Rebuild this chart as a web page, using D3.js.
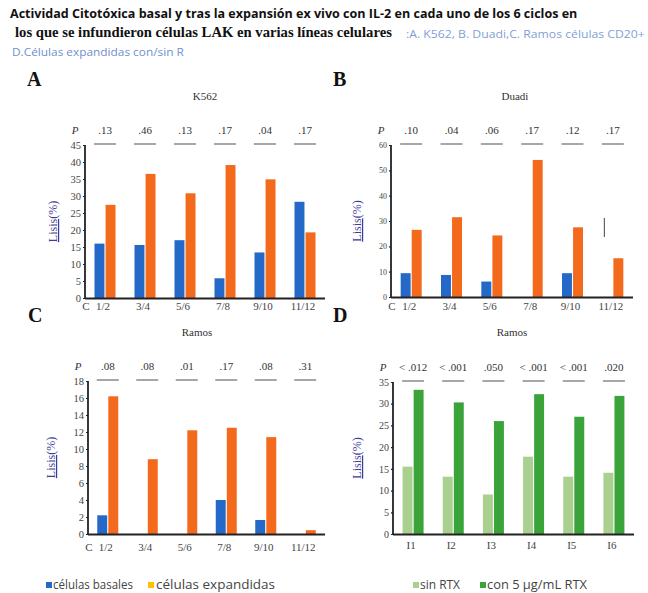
<!DOCTYPE html>
<html><head><meta charset="utf-8">
<script src="https://cdn.jsdelivr.net/npm/d3@7"></script>
<style>
html,body{margin:0;padding:0;background:#fff;}
svg{display:block;}
</style></head>
<body>
<svg id="chart" width="648" height="593"></svg>
<script>
// ---------- DATA ----------
const cycles = ["1/2", "3/4", "5/6", "7/8", "9/10", "11/12"];
const infusions = ["I1", "I2", "I3", "I4", "I5", "I6"];

const k562Basal = [16.0, 15.6, 17.0, 5.8, 13.4, 28.3];
const k562Expanded = [27.4, 36.5, 30.8, 39.1, 34.9, 19.3];
const k562P = [".13", ".46", ".13", ".17", ".04", ".17"];
const k562Ticks = [0, 5, 10, 15, 20, 25, 30, 35, 40, 45];

const duadiBasal = [9.4, 8.7, 6.1, 0, 9.4, 0];
const duadiExpanded = [26.5, 31.5, 24.3, 54.1, 27.5, 15.3];
const duadiP = [".10", ".04", ".06", ".17", ".12", ".17"];
const duadiTicks = [0, 10, 20, 30, 40, 50, 60];
const duadiStrayMark = [23.7, 31.2]; // stray vertical mark at 11/12

const ramosBasal = [2.2, 0, 0, 4.0, 1.65, 0];
const ramosExpanded = [16.2, 8.8, 12.2, 12.5, 11.4, 0.45];
const ramosP = [".08", ".08", ".01", ".17", ".08", ".31"];
const ramosTicks = [0, 2, 4, 6, 8, 10, 12, 14, 16, 18];

const sinRTX = [15.5, 13.2, 9.1, 17.8, 13.2, 14.1];
const conRTX = [33.2, 30.3, 26.0, 32.2, 27.0, 31.8];
const rtxP = ["< .012", "< .001", ".050", "< .001", "< .001", ".020"];
const rtxTicks = [0, 5, 10, 15, 20, 25, 30, 35];

const legendLabels = ["células basales", "células expandidas", "sin RTX", "con 5 µg/mL RTX"];

// ---------- STYLE ----------
const C_BLUE = "#2468c8", C_ORANGE = "#f46a1c", C_YELLOW = "#ffc000";
const C_LGREEN = "#a9d08e", C_GREEN = "#3aa33a";
const SERIF = "'Liberation Serif','DejaVu Serif',serif";
const SANS = "'Open Sans','Noto Sans','Liberation Sans',sans-serif";

const svg = d3.select("#chart");

// text fitted horizontally to a given width with a scale transform
function fitText(x, y, width, txt, attrs) {
  const g = svg.append("g");
  const t = g.append("text").attr("x", 0).attr("y", 0).text(txt);
  Object.entries(attrs).forEach(([k, v]) => t.attr(k, v));
  const w = t.node().getComputedTextLength();
  g.attr("transform", `translate(${x},${y}) scale(${width / w},1)`);
  return t;
}

// ---------- TITLE ----------
fitText(10, 18, 568, "Actividad Citotóxica basal y tras la expansión ex vivo con IL-2  en cada uno de los 6 ciclos en",
  { "font-family": SANS, "font-weight": "bold", "font-size": 13, fill: "#111" });
fitText(15, 37, 377, "los que se infundieron células LAK  en varias líneas celulares",
  { "font-family": SERIF, "font-weight": "bold", "font-size": 14, fill: "#111" });
fitText(406, 38, 239, ":A. K562, B. Duadi,C. Ramos células CD20+",
  { "font-family": SANS, "font-size": 10, fill: "#7f9fd4" });
fitText(12, 56, 172, "D.Células expandidas con/sin R",
  { "font-family": SANS, "font-size": 10.5, fill: "#6f8fd0" });

// ---------- PANELS ----------
function panel(cfg) {
  const g = svg.append("g");
  const x = d3.scaleBand().domain(cfg.cats).range([cfg.x0, cfg.x1]);
  const inner = d3.scaleBand().domain([0, 1]).range([-10.5, 10.5]).paddingInner(0.1);
  const y = d3.scaleLinear().domain([0, cfg.max]).range([cfg.yBot, cfg.yTop]);

  // panel letter
  g.append("text").attr("x", cfg.letterX).attr("y", cfg.letterY)
    .attr("font-family", SERIF).attr("font-weight", "bold").attr("font-size", 20).attr("fill", "#111")
    .text(cfg.letter);
  // panel title
  g.append("text").attr("x", cfg.titleX).attr("y", cfg.titleY).attr("text-anchor", "middle")
    .attr("font-family", SERIF).attr("font-size", 11).attr("fill", "#333")
    .text(cfg.title);

  // bars
  const series = [cfg.s1, cfg.s2];
  const colors = [cfg.c1, cfg.c2];
  series.forEach((vals, si) => {
    g.selectAll(null).data(vals).enter().append("rect")
      .attr("x", (d, i) => x(cfg.cats[i]) + x.bandwidth() / 2 + inner(si))
      .attr("width", inner.bandwidth())
      .attr("y", d => y(d))
      .attr("height", d => cfg.yBot - y(d))
      .attr("fill", colors[si]);
  });

  // axes
  const ax = g.append("g").attr("transform", `translate(${cfg.x0},0)`)
    .call(d3.axisLeft(y).tickValues(cfg.ticks).tickSize(2).tickSizeOuter(0).tickPadding(2));
  ax.select(".domain").remove();
  ax.selectAll(".tick line").attr("stroke", "#222").attr("stroke-width", 1.2);
  ax.selectAll(".tick text").attr("font-family", SERIF).attr("font-size", cfg.tickFont).attr("fill", "#444");
  g.append("line").attr("x1", cfg.x0).attr("x2", cfg.x0).attr("y1", cfg.yTop).attr("y2", cfg.yBot + 1)
    .attr("stroke", "#222").attr("stroke-width", 1.8);
  g.append("line").attr("x1", cfg.x0).attr("x2", cfg.x1).attr("y1", cfg.yBot + 0.5).attr("y2", cfg.yBot + 0.5)
    .attr("stroke", "#222").attr("stroke-width", 1.8);

  // x labels
  g.selectAll(null).data(cfg.cats).enter().append("text")
    .attr("x", d => x(d) + x.bandwidth() / 2 - 2).attr("y", cfg.xLabY).attr("text-anchor", "middle")
    .attr("font-family", SERIF).attr("font-size", 11).attr("fill", "#444")
    .text(d => d);
  if (cfg.cLabel) {
    g.append("text").attr("x", cfg.x0 + 1).attr("y", cfg.xLabY).attr("text-anchor", "middle")
      .attr("font-family", SERIF).attr("font-size", 11).attr("fill", "#444").text("C");
  }

  // P row
  g.append("text").attr("x", cfg.x0 - 10).attr("y", cfg.yTop - 11).attr("text-anchor", "middle")
    .attr("font-family", SERIF).attr("font-style", "italic").attr("font-size", 11).attr("fill", "#333").text("P");
  g.selectAll(null).data(cfg.p).enter().append("text")
    .attr("x", (d, i) => x(cfg.cats[i]) + x.bandwidth() / 2).attr("y", cfg.yTop - 11).attr("text-anchor", "middle")
    .attr("font-family", SERIF).attr("font-size", 11).attr("fill", "#333")
    .text(d => d);
  g.selectAll(null).data(cfg.cats).enter().append("line")
    .attr("x1", d => x(d) + x.bandwidth() / 2 - 11).attr("x2", d => x(d) + x.bandwidth() / 2 + 11)
    .attr("y1", cfg.yTop - 1).attr("y2", cfg.yTop - 1)
    .attr("stroke", "#777").attr("stroke-width", 1.3);

  // y label
  const yl = g.append("text")
    .attr("transform", `translate(${cfg.ylabX},${(cfg.yTop + cfg.yBot) / 2}) rotate(-90)`)
    .attr("text-anchor", "middle").attr("font-family", SERIF).attr("font-size", 12).attr("fill", "#3d3d99");
  yl.append("tspan").attr("text-decoration", "underline").text("Lisis");
  yl.append("tspan").text("(%)");

  return { g, x, y, inner };
}

panel({ letter: "A", letterX: 27, letterY: 86, title: "K562", titleX: 205, titleY: 100,
  cats: cycles, s1: k562Basal, s2: k562Expanded, c1: C_BLUE, c2: C_ORANGE, p: k562P,
  ticks: k562Ticks, max: 45, x0: 85, x1: 325, yTop: 145, yBot: 298, xLabY: 310, cLabel: true,
  tickFont: 10.5, ylabX: 57 });

const pB = panel({ letter: "B", letterX: 333, letterY: 86, title: "Duadi", titleX: 515, titleY: 100,
  cats: cycles, s1: duadiBasal, s2: duadiExpanded, c1: C_BLUE, c2: C_ORANGE, p: duadiP,
  ticks: duadiTicks, max: 60, x0: 391, x1: 633, yTop: 145, yBot: 297, xLabY: 310, cLabel: true,
  tickFont: 8, ylabX: 361 });
// stray vertical mark in panel B
pB.g.append("line")
  .attr("x1", pB.x(cycles[5]) + pB.x.bandwidth() / 2 + pB.inner(0) + 2)
  .attr("x2", pB.x(cycles[5]) + pB.x.bandwidth() / 2 + pB.inner(0) + 2)
  .attr("y1", pB.y(duadiStrayMark[1])).attr("y2", pB.y(duadiStrayMark[0]))
  .attr("stroke", "#444").attr("stroke-width", 1);

panel({ letter: "C", letterX: 28, letterY: 322, title: "Ramos", titleX: 197, titleY: 336,
  cats: cycles, s1: ramosBasal, s2: ramosExpanded, c1: C_BLUE, c2: C_ORANGE, p: ramosP,
  ticks: ramosTicks, max: 18, x0: 88, x1: 325, yTop: 381, yBot: 534, xLabY: 551, cLabel: true,
  tickFont: 10.5, ylabX: 55 });

panel({ letter: "D", letterX: 333, letterY: 322, title: "Ramos", titleX: 512, titleY: 336,
  cats: infusions, s1: sinRTX, s2: conRTX, c1: C_LGREEN, c2: C_GREEN, p: rtxP,
  ticks: rtxTicks, max: 35, x0: 393, x1: 634, yTop: 382, yBot: 534, xLabY: 549, cLabel: false,
  tickFont: 10, ylabX: 361 });

// ---------- LEGEND ----------
const legendColors = [C_BLUE, C_YELLOW, C_LGREEN, C_GREEN];
const legendSq = [46, 148, 413, 480];
const legendText = [53, 156, 420, 487];
const legendLen = [80, 119, 40, 100];
const lg = svg.append("g");
lg.selectAll(null).data(legendLabels).enter().append("rect")
  .attr("x", (d, i) => legendSq[i]).attr("y", 582).attr("width", 6).attr("height", 6)
  .attr("fill", (d, i) => legendColors[i]);
lg.selectAll(null).data(legendLabels).enter().append("text")
  .attr("x", (d, i) => legendText[i]).attr("y", 589)
  .attr("font-family", SANS).attr("font-size", 12).attr("fill", "#444")
  .attr("textLength", (d, i) => legendLen[i]).attr("lengthAdjust", "spacingAndGlyphs")
  .text(d => d);
</script>
</body></html>
